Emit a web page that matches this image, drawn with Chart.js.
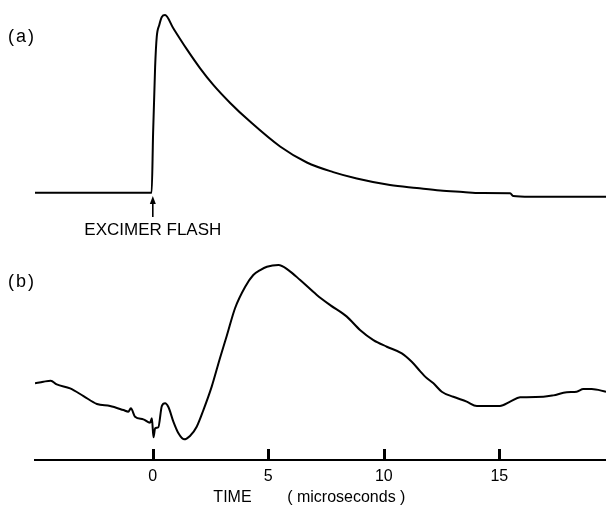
<!DOCTYPE html>
<html><head><meta charset="utf-8">
<script src="https://cdn.jsdelivr.net/npm/chart.js@4.4.0/dist/chart.umd.min.js"></script>
<style>
html,body{margin:0;padding:0;background:#fff;}
#wrap{position:relative;width:606px;height:506px;background:#fff;}
canvas{position:absolute;left:0;top:0;}
</style></head><body>
<div id="wrap"><canvas id="ca" width="606" height="506"></canvas><canvas id="cb" width="606" height="506"></canvas></div>
<script>
// ---- data (time in microseconds, signals in arbitrary units) ----
const timeA   = [-5.1, -2.5, -0.05, 0.013, 0.10, 0.17, 0.28, 0.39, 0.53, 0.88, 1.47, 2.05, 2.61, 3.35, 4.21, 5.51, 6.67, 7.81, 8.83, 10.27, 11.43, 12.44, 13.43, 14.17, 15.47, 15.60, 16.33, 19.62];
const signalA = [0, 0, 0, 33.6, 70.7, 87.6, 94.4, 98.9, 100, 92.7, 80.8, 70.0, 60.8, 50.5, 40.0, 26.0, 17.0, 11.6, 8.0, 4.3, 2.6, 1.2, 0.4, -0.2, -0.3, -1.9, -2.3, -2.3];

const timeB   = [-5.10, -4.74, -4.42, -4.16, -3.58, -3.00, -2.42, -1.85, -1.27, -1.06, -0.95, -0.77, -0.41, -0.12, -0.04, 0.03, 0.10, 0.24, 0.39, 0.53, 0.68, 0.89, 1.11, 1.35, 1.61, 1.90, 2.19, 2.55, 2.91, 3.20, 3.56, 4.00, 4.35, 4.65, 4.94, 5.44, 5.87, 6.38, 7.10, 7.68, 8.40, 8.97, 9.55, 10.13, 10.78, 11.21, 11.57, 11.79, 12.15, 12.51, 13.01, 13.59, 14.03, 15.03, 15.47, 15.90, 16.91, 17.34, 17.92, 18.35, 18.64, 19.00, 19.62];
const signalB = [32.4, 33.3, 33.9, 31.8, 29.5, 25.1, 20.6, 19.4, 17.1, 16.2, 18.1, 13.3, 11.8, 9.9, 12.4, 1.5, 6.7, 7.3, 19.4, 21.0, 18.7, 10.5, 3.8, 0.4, 2.3, 7.6, 17.1, 30.5, 46.9, 59.4, 75.3, 87.6, 94.3, 97.1, 99.0, 100, 97.1, 91.4, 82.9, 77.1, 70.5, 62.9, 57.1, 53.3, 49.5, 44.7, 39.4, 36.2, 32.4, 27.6, 24.7, 21.9, 19.4, 19.4, 21.9, 24.4, 24.7, 25.5, 27.3, 27.6, 29.1, 29.1, 27.6];

const tickValues  = [0, 5, 10, 15];
const panelLabels = ['(a)', '(b)'];
const flashLabel  = 'EXCIMER FLASH';
const NB = '\u00a0';
const axisTitle   = 'TIME' + NB.repeat(8) + '( microseconds )' + NB.repeat(5);

const T_MIN = -5.1, T_MAX = 19.62;
const FONT = '"Liberation Sans", Arial, sans-serif';
Chart.defaults.font.family = FONT;
Chart.defaults.color = '#000';

function pts(t, v) { return t.map((x, i) => ({x: x, y: v[i]})); }

const lineStyle = {borderColor: '#000', borderWidth: 2, pointRadius: 0, fill: false, cubicInterpolationMode: 'monotone'};

const annotB = {
  id: 'annotB',
  afterDraw(chart) {
    const ctx = chart.ctx;
    const s = chart.scales.x;
    ctx.save();
    ctx.fillStyle = '#000';
    ctx.font = '18px ' + FONT; ctx.textBaseline = 'middle'; ctx.textAlign = 'left';
    ctx.letterSpacing = '2px';
    ctx.fillText(panelLabels[1], 8, 282);
    ctx.letterSpacing = '0px';
    // upward tick marks on the time axis, at the scale's own tick positions
    for (const tk of s.ticks) {
      const px = Math.round(s.getPixelForValue(tk.value));
      ctx.fillRect(px - 1, s.top - 11, 3, 12);
    }
    ctx.restore();
  }
};

new Chart(document.getElementById('cb'), {
  type: 'line',
  data: {datasets: [Object.assign({data: pts(timeB, signalB)}, lineStyle)]},
  options: {
    responsive: false, animation: false,
    layout: {padding: {left: 35, right: 0, top: 230, bottom: 0}},
    plugins: {legend: {display: false}, tooltip: {enabled: false}},
    scales: {
      x: {
        type: 'linear', min: T_MIN, max: T_MAX, position: 'bottom',
        afterBuildTicks: s => { s.ticks = tickValues.map(v => ({value: v})); },
        afterFit: s => { s.height = 46; },
        grid: {display: false, drawOnChartArea: false, drawTicks: false},
        border: {display: true, color: '#000', width: 2},
        ticks: {color: '#000', font: {size: 16}, padding: 7, maxRotation: 0, autoSkip: false},
        title: {display: true, text: axisTitle, color: '#000', font: {size: 16, lineHeight: 1}, padding: {top: 0, bottom: 0}}
      },
      y: {min: -11.43, max: 120, display: false}
    }
  },
  plugins: [annotB]
});

const annotA = {
  id: 'annotA',
  afterDraw(chart) {
    const ctx = chart.ctx;
    const x0 = chart.scales.x.getPixelForValue(0);
    ctx.save();
    ctx.fillStyle = '#000'; ctx.strokeStyle = '#000';
    ctx.font = '18px ' + FONT; ctx.textBaseline = 'middle'; ctx.textAlign = 'left';
    ctx.letterSpacing = '2px';
    ctx.fillText(panelLabels[0], 8, 37);
    ctx.letterSpacing = '0px';
    ctx.lineWidth = 1.6;
    ctx.beginPath(); ctx.moveTo(x0, 217); ctx.lineTo(x0, 202); ctx.stroke();
    ctx.beginPath(); ctx.moveTo(x0, 196); ctx.lineTo(x0 - 3, 204); ctx.lineTo(x0 + 3, 204); ctx.closePath(); ctx.fill();
    ctx.font = '17px ' + FONT; ctx.textAlign = 'center';
    ctx.fillText(flashLabel, x0, 230);
    ctx.restore();
  }
};

new Chart(document.getElementById('ca'), {
  type: 'line',
  data: {datasets: [Object.assign({data: pts(timeA, signalA)}, lineStyle)]},
  options: {
    responsive: false, animation: false,
    layout: {padding: {left: 35, right: 0, top: 0, bottom: 276}},
    plugins: {legend: {display: false}, tooltip: {enabled: false}},
    scales: {
      x: {type: 'linear', min: T_MIN, max: T_MAX, display: false},
      y: {min: -20.99, max: 108.44, display: false}
    }
  },
  plugins: [annotA]
});
</script>
</body></html>
